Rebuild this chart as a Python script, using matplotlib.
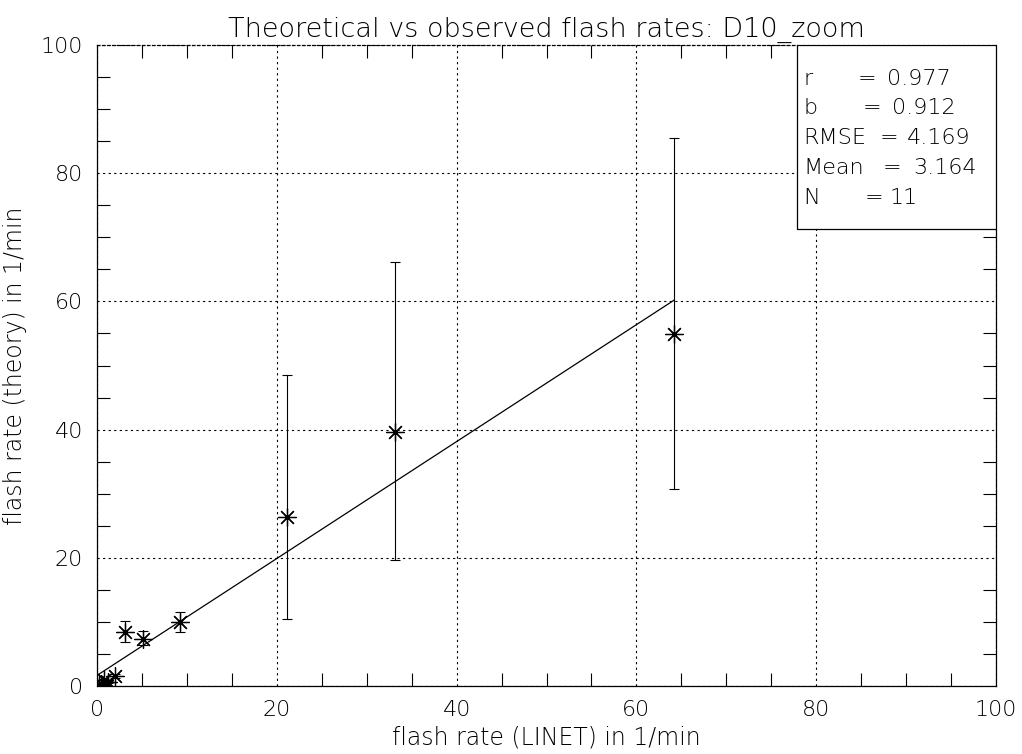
import matplotlib
matplotlib.use("Agg")
import matplotlib.pyplot as plt
from matplotlib.patches import Rectangle
from matplotlib.ticker import MultipleLocator

# ---- data ----
obs_linet = [64.2, 33.1, 21.1, 9.2, 5.1, 3.1, 2.0, 1.2, 0.8, 0.5, 0.2]
theory = [54.9, 39.6, 26.4, 10.0, 7.4, 8.5, 1.5, 0.6, 0.9, 0.3, 0.2]
theory_hi = [85.5, 66.1, 48.5, 11.6, 8.6, 10.2, 1.8, 0.8, 1.1, 0.4, 0.3]
theory_lo = [30.7, 19.7, 10.4, 8.4, 6.4, 6.8, 1.2, 0.4, 0.7, 0.2, 0.1]

fit_slope = 0.912
fit_intercept = 1.65

stat_names = ["r", "b", "RMSE", "Mean", "N"]
stat_values = ["0.977", "0.912", "4.169", "3.164", "11"]

title = "Theoretical vs observed flash rates: D10_zoom"
xlabel = "flash rate (LINET) in 1/min"
ylabel = "flash rate (theory) in 1/min"

plt.rcParams["font.family"] = ["DejaVu Sans"]
plt.rcParams["font.weight"] = "light"
plt.rcParams["axes.titleweight"] = "light"
plt.rcParams["axes.labelweight"] = "light"

fig = plt.figure(figsize=(10.22, 7.54), dpi=100)
ax = fig.add_axes([97 / 1022, 1 - 686 / 754, (996 - 97) / 1022, (686 - 45) / 754])

ax.set_xlim(0, 100)
ax.set_ylim(0, 100)

yerr = [[t - l for t, l in zip(theory, theory_lo)], [h - t for h, t in zip(theory_hi, theory)]]
ax.errorbar(obs_linet, theory, yerr=yerr, fmt="none", ecolor="black", elinewidth=0.8,
            capsize=3.6, capthick=0.8, zorder=3)
ax.plot(obs_linet, theory, linestyle="none", marker=(8, 2, 0), markersize=13,
        markeredgewidth=0.9, color="black", zorder=4)

x0, x1 = min(obs_linet), max(obs_linet)
ax.plot([x0, x1], [fit_intercept + fit_slope * x0, fit_intercept + fit_slope * x1],
        color="black", lw=0.9, zorder=3)

# ticks
ax.xaxis.set_major_locator(MultipleLocator(20))
ax.yaxis.set_major_locator(MultipleLocator(20))
ax.xaxis.set_minor_locator(MultipleLocator(5))
ax.yaxis.set_minor_locator(MultipleLocator(5))
ax.tick_params(which="both", direction="in", top=True, right=True, width=0.8, color="black")
ax.tick_params(which="major", length=0, pad=10, labelsize=16)
ax.tick_params(which="minor", length=9.5)
ax.grid(True, which="major", color="black", linestyle=(0, (2, 3)), linewidth=0.8)
for s in ax.spines.values():
    s.set_linewidth(0.9)
ax.spines["top"].set_linestyle((0, (2, 2)))

ax.set_title(title, fontsize=19.5, pad=6)
ax.set_xlabel(xlabel, fontsize=17, labelpad=4)
ax.set_ylabel(ylabel, fontsize=17, labelpad=10)

# stats box
W = 996 - 97
H = 686 - 45
bx0 = (797 - 97) / W
by0 = (686 - 229) / H
ax.add_patch(Rectangle((bx0, by0), 1 - bx0, 1 - by0, transform=ax.transAxes,
                       facecolor="white", edgecolor="black", lw=0.9, zorder=5))
line_px = [79, 108, 138, 168, 198]
eq_px = [858, 863, 880, 883, 865]
val_px = [887, 892, 907, 913, 890]
for name, val, py, ex, vx in zip(stat_names, stat_values, line_px, eq_px, val_px):
    yy = (686 - py) / H
    ax.text((803 - 97) / W, yy, name, transform=ax.transAxes,
            fontsize=16, va="center", ha="left", zorder=6)
    ax.text((ex - 97) / W, yy, "=", transform=ax.transAxes,
            fontsize=16, va="center", ha="left", zorder=6)
    ax.text((vx - 97) / W, yy, val, transform=ax.transAxes,
            fontsize=16, va="center", ha="left", zorder=6)

fig.savefig("out.png", dpi=100)
